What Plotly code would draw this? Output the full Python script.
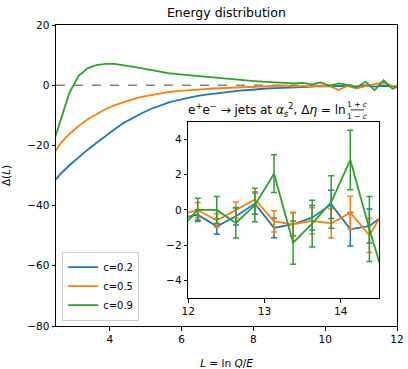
import plotly.graph_objects as go

# bin centres of L = ln Q/E
L = [2.375, 2.625, 2.875, 3.125, 3.375, 3.625, 3.875, 4.125, 4.375, 4.625,
     4.875, 5.125, 5.375, 5.625, 5.875, 6.125, 6.375, 6.625, 6.875, 7.125,
     7.375, 7.625, 7.875, 8.125, 8.375, 8.625, 8.875, 9.125, 9.375, 9.625,
     9.875, 10.125, 10.375, 10.625, 10.875, 11.125, 11.375, 11.625, 11.875, 12.125,
     12.375, 12.625, 12.875, 13.125, 13.375, 13.625, 13.875, 14.125, 14.375, 14.625]

labels = ["c=0.2", "c=0.5", "c=0.9"]
colors = ["#1f77b4", "#ff7f0e", "#2ca02c"]

d_c02 = [-33.0, -29.5, -26.6, -24.0, -21.5, -19.2, -16.8, -14.7, -12.6, -10.9,
         -9.4, -8.0, -6.8, -5.8, -5.0, -4.3, -3.7, -3.2, -2.8, -2.4,
         -2.1, -1.8, -1.6, -1.3, -1.1, -1.0, -0.8, -0.7, -0.6, -0.5,
         -0.3, -0.4, -0.2, -0.3, -0.4, -0.1, -0.5, -0.2, -0.5, -0.27,
         -0.93, -0.36, 0.36, -1.02, -0.81, -0.44, 0.32, -1.1, -0.91, -0.1]
d_c05 = [-24.0, -19.3, -16.2, -13.6, -11.4, -9.6, -8.0, -6.7, -5.6, -4.7,
         -3.9, -3.3, -2.8, -2.3, -2.0, -1.7, -1.5, -1.3, -1.1, -1.0,
         -0.9, -0.8, -0.6, -0.5, -0.5, -0.4, -0.1, -0.5, -0.2, -0.4,
         -0.1, -0.3, -1.6, -0.2, -1.1, -0.2, 0.3, 0.9, -0.3, 0.0,
         -0.6, 0.0, 0.6, -0.65, -0.81, -0.62, -0.76, -0.15, -1.44, 0.38]
d_c09 = [-21.0, -11.5, -2.5, 3.0, 5.6, 6.7, 7.1, 7.1, 6.7, 6.2,
         5.7, 5.1, 4.5, 4.0, 3.7, 3.4, 3.1, 2.9, 2.6, 2.3,
         2.0, 1.7, 1.5, 1.3, 1.1, 1.0, 0.8, 0.6, 0.8, 0.3,
         0.9, -0.2, 0.6, 0.1, -0.8, 1.2, -1.7, 1.6, -1.2, 0.0,
         0.0, -0.74, 0.28, 2.06, -1.86, -0.78, 0.45, 2.84, -1.08, -4.7]

# statistical errors for the high-L bins (from L = 11.875 on)
e_c02 = [0.3, 0.3, 0.45, 0.5, 0.6, 0.56, 0.65, 0.7, 0.8, 0.95, 0.97, 1.0]
e_c05 = [0.4, 0.43, 0.38, 0.45, 0.43, 0.6, 0.68, 0.74, 0.83, 0.93, 0.97, 1.0]
e_c09 = [0.6, 0.66, 0.76, 0.85, 0.95, 1.07, 1.23, 1.33, 1.49, 1.69, 1.85, 1.9]

series = [d_c02, d_c05, d_c09]
errors = [e_c02, e_c05, e_c09]
n_in = len(e_c02)

fig = go.Figure()

for lab, col, d in zip(labels, colors, series):
    fig.add_trace(go.Scatter(x=L, y=d, mode="lines", name=lab,
                             line=dict(color=col, width=1.8),
                             xaxis="x", yaxis="y"))

for lab, col, d, e in zip(labels, colors, series, errors):
    fig.add_trace(go.Scatter(x=L[-n_in:], y=d[-n_in:], mode="lines", showlegend=False,
                             line=dict(color=col, width=1.8),
                             error_y=dict(type="data", array=e, color=col,
                                          thickness=1.5, width=3),
                             xaxis="x2", yaxis="y2"))

ax = dict(showline=True, linecolor="black", linewidth=1, mirror=True,
          ticks="outside", ticklen=3.5, tickcolor="black", showgrid=False,
          zeroline=False, automargin=False, tickfont=dict(size=10.5, color="black"))

fig.update_layout(
    width=408, height=369,
    margin=dict(l=56, r=11, t=25, b=43),
    paper_bgcolor="white", plot_bgcolor="white",
    font=dict(family="DejaVu Sans", color="black"),
    title=dict(text="Energy distribution", x=0.555, xanchor="center",
               y=0.965, yanchor="middle", font=dict(size=12.5)),
    xaxis=dict(ax, domain=[0, 1], range=[2.5, 12], tickvals=[4, 6, 8, 10, 12],
               title=dict(text="<i>L</i> = ln <i>Q</i>/<i>E</i>", font=dict(size=10.5))),
    yaxis=dict(ax, domain=[0, 1], range=[-80, 20], tickvals=[-80, -60, -40, -20, 0, 20],
               title=dict(text="Δ(<i>L</i>)", font=dict(size=10.5))),
    xaxis2=dict(ax, domain=[0.3876, 0.947], range=[12, 14.5], tickvals=[12, 13, 14],
                anchor="y2"),
    yaxis2=dict(ax, domain=[0.093, 0.678], range=[-5, 5], tickvals=[-4, -2, 0, 2, 4],
                anchor="x2"),
    legend=dict(x=0.018, y=0.018, xanchor="left", yanchor="bottom",
                bgcolor="rgba(255,255,255,0.8)", bordercolor="#cccccc", borderwidth=1,
                font=dict(size=10), itemwidth=30, tracegroupgap=0),
    showlegend=True,
)

# dashed zero lines
fig.add_shape(type="line", xref="x domain", yref="y", x0=0, x1=1, y0=0, y1=0,
              line=dict(color="gray", width=1.5, dash="dash"), layer="below")
fig.add_shape(type="line", xref="x2 domain", yref="y2", x0=0, x1=1, y0=0, y1=0,
              line=dict(color="gray", width=1.5, dash="dash"), layer="below")

# inset title with a stacked fraction
fig.add_annotation(xref="paper", yref="paper", x=0.856, y=0.716, xanchor="right",
                   yanchor="middle", showarrow=False, font=dict(size=12),
                   text="e<sup>+</sup>e<sup>−</sup> → jets at <i>α</i><sub><i>s</i></sub><sup>2</sup>, Δ<i>η</i> = ln")
fig.add_annotation(xref="paper", yref="paper", x=0.883, y=0.737, xanchor="center",
                   yanchor="middle", showarrow=False, font=dict(size=7.5),
                   text="1 + <i>c</i>")
fig.add_annotation(xref="paper", yref="paper", x=0.883, y=0.697, xanchor="center",
                   yanchor="middle", showarrow=False, font=dict(size=7.5),
                   text="1 − <i>c</i>")
fig.add_shape(type="line", xref="paper", yref="paper", x0=0.863, x1=0.903,
              y0=0.718, y1=0.718, line=dict(color="black", width=0.8))

fig.write_html("out.html", config={"displayModeBar": False},
               post_script="document.body.style.margin='0';")
